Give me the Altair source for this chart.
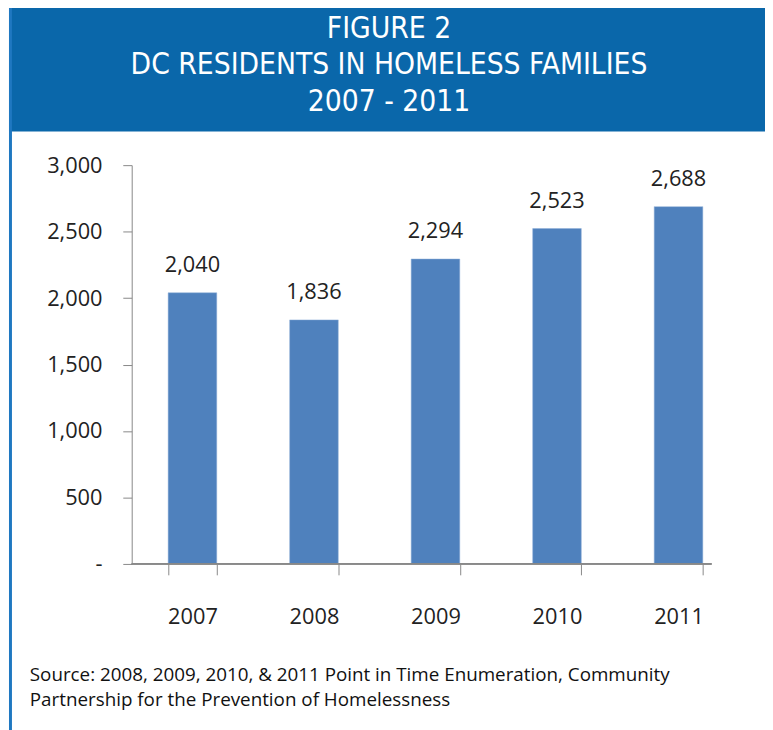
import altair as alt
import pandas as pd

years = ["2007", "2008", "2009", "2010", "2011"]
residents = [2040, 1836, 2294, 2523, 2688]
y_ticks = [0, 500, 1000, 1500, 2000, 2500, 3000]
title_lines = ["FIGURE 2", "DC RESIDENTS IN HOMELESS FAMILIES", "2007 - 2011"]
source_lines = [
    "Source: 2008, 2009, 2010, & 2011 Point in Time Enumeration, Community",
    "Partnership for the Prevention of Homelessness",
]

df = pd.DataFrame({"year": years, "residents": residents})

W, H = 614, 403
BAR = "#4f81bd"
BANNER = "#0a67aa"
FONT = "Open Sans"

x_enc = alt.X(
    "year:N",
    title=None,
    sort=years,
    scale=alt.Scale(paddingInner=0.6, paddingOuter=0.3),
    axis=alt.Axis(
        labelAngle=0,
        labelFontSize=22,
        labelFont=FONT,
        labelColor="#222222",
        tickBand="extent",
        tickSize=11,
        tickColor="#888888",
        tickWidth=1,
        labelPadding=32,
        domain=False,
    ),
)
y_enc = alt.Y(
    "residents:Q",
    title=None,
    scale=alt.Scale(domain=[0, 3000], nice=False),
    axis=alt.Axis(
        values=y_ticks,
        labelExpr="datum.value == 0 ? '-' : format(datum.value, ',')",
        labelFontSize=22,
        labelFont=FONT,
        labelColor="#222222",
        tickSize=9,
        tickColor="#888888",
        domainColor="#888888",
        labelPadding=21,
        grid=False,
    ),
)

base = alt.Chart(df)
bars = base.mark_bar(color=BAR, stroke="#8fb0d8", strokeWidth=0.5).encode(x=x_enc, y=y_enc)
labels = base.mark_text(
    baseline="alphabetic", dy=-21, fontSize=22, font=FONT, color="#222222"
).encode(x=alt.X("year:N", sort=years), y="residents:Q", text=alt.Text("residents:Q", format=","))

baseline = base.mark_rule(color="#888888", strokeWidth=1).encode(
    x=alt.value(0), x2=alt.value(586), y=alt.value(H)
)

banner = alt.Chart(pd.DataFrame({"a": [0]})).mark_rect(color=BANNER).encode(
    x=alt.value(-124), x2=alt.value(640), y=alt.value(-160), y2=alt.value(-34)
)
border = alt.Chart(pd.DataFrame({"a": [0]})).mark_rect(color="#1f78c1").encode(
    x=alt.value(-124), x2=alt.value(-121), y=alt.value(-160), y2=alt.value(620)
)
title_text = alt.Chart(pd.DataFrame({"a": [0]})).mark_text(
    text=title_lines,
    lineHeight=37,
    fontSize=30,
    font="Liberation Sans Narrow, DejaVu Sans Condensed, sans-serif",
    fontWeight=500,
    color="white",
    align="center",
    baseline="middle",
).encode(x=alt.value(260), y=alt.value(-138))

source_text = alt.Chart(pd.DataFrame({"a": [0]})).mark_text(
    text=source_lines,
    lineHeight=26,
    fontSize=19,
    font=FONT,
    color="#111111",
    align="left",
    baseline="middle",
).encode(x=alt.value(-103), y=alt.value(515))

chart = (
    alt.layer(banner, border, title_text, bars, labels, baseline, source_text)
    .properties(
        width=W,
        height=H,
        autosize=alt.AutoSizeParams(type="none"),
        padding={"left": 125, "top": 155, "right": 26, "bottom": 164},
        background="white",
    )
    .configure_view(stroke=None)
)

chart.save("out.html", embed_options={"renderer": "svg", "actions": False})
